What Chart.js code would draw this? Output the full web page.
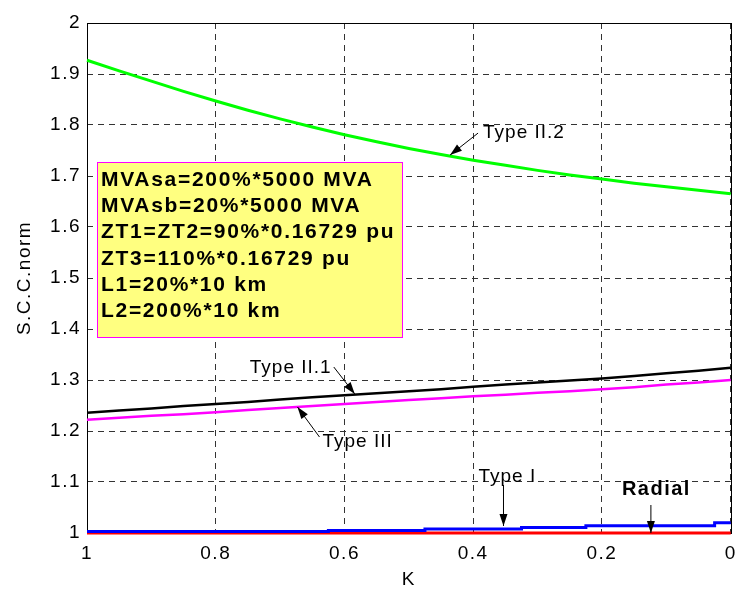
<!DOCTYPE html>
<html><head><meta charset="utf-8">
<script src="https://cdn.jsdelivr.net/npm/chart.js@4/dist/chart.umd.min.js"></script>
<style>html,body{margin:0;padding:0;background:#fff;}canvas{display:block;}</style>
</head><body>
<canvas id="c" width="745" height="592"></canvas>
<script>
// ---- data ----
const kValues = [1,0.95,0.9,0.85,0.8,0.75,0.7,0.65,0.6,0.55,0.5,0.45,0.4,0.35,0.3,0.25,0.2,0.15,0.1,0.05,0];
const typeII2 = [1.927,1.906,1.886,1.866,1.847,1.829,1.812,1.796,1.781,1.767,1.754,1.742,1.731,1.721,1.711,1.702,1.694,1.686,1.679,1.672,1.665];
const typeII1 = [1.236,1.240,1.244,1.249,1.253,1.257,1.262,1.266,1.270,1.274,1.278,1.282,1.287,1.291,1.295,1.299,1.303,1.308,1.313,1.318,1.324];
const typeIII = [1.222,1.226,1.230,1.233,1.237,1.241,1.245,1.249,1.253,1.257,1.261,1.264,1.268,1.271,1.275,1.278,1.282,1.286,1.291,1.295,1.300];
const typeI   = [1.003,1.003,1.003,1.003,1.003,1.003,1.003,1.003,1.005,1.005,1.005,1.008,1.008,1.008,1.011,1.011,1.014,1.014,1.014,1.014,1.020];
const radial  = [1,1,1,1,1,1,1,1,1,1,1,1,1,1,1,1,1,1,1,1,1];
const xTickValues = [1,0.8,0.6,0.4,0.2,0];
const xTickLabels = ['1','0.8','0.6','0.4','0.2','0'];
const yTickValues = [1,1.1,1.2,1.3,1.4,1.5,1.6,1.7,1.8,1.9,2];
const yTickLabels = ['1','1.1','1.2','1.3','1.4','1.5','1.6','1.7','1.8','1.9','2'];
const boxLines = ['MVAsa=200%*5000 MVA','MVAsb=20%*5000 MVA','ZT1=ZT2=90%*0.16729 pu','ZT3=110%*0.16729 pu','L1=20%*10 km','L2=200%*10 km'];
const arrowLabels = ['Type II.2','Type II.1','Type III','Type I','Radial'];
const arrowTipK = [0.436,0.584,0.673,0.353,0.124];
const arrowTipY = [1.741,1.2725,1.247,1.0137,1.0];

// ---- styling / placement (pixels) ----
const FONT = "'Liberation Sans', Arial, Helvetica, sans-serif";
const arrowStyle = [
  {tail:[28,-22], text:[33,-17], bold:false},
  {tail:[-21,-27], text:[-105,-21], bold:false},
  {tail:[22,30], text:[25,40], bold:false},
  {tail:[0,-41], text:[-25,-44], bold:false},
  {tail:[0,-28], text:[-29,-38], bold:true}
];
const boxStyle = {dx:10, dy:139, w:305, h:175, textDx:4, firstBaseline:24, lineGap:26.2};

function drawArrow(ctx, x1, y1, x2, y2){
  ctx.beginPath(); ctx.moveTo(x1,y1); ctx.lineTo(x2,y2); ctx.stroke();
  const a = Math.atan2(y2-y1, x2-x1), L = 12, W = 4;
  ctx.beginPath();
  ctx.moveTo(x2,y2);
  ctx.lineTo(x2 - L*Math.cos(a) + W*Math.sin(a), y2 - L*Math.sin(a) - W*Math.cos(a));
  ctx.lineTo(x2 - L*Math.cos(a) - W*Math.sin(a), y2 - L*Math.sin(a) + W*Math.cos(a));
  ctx.closePath(); ctx.fill();
}

const overlay = {
  id:'overlay',
  beforeDraw(chart){ chart.ctx.letterSpacing = '1.5px'; },
  beforeDatasetsDraw(chart){
    const {ctx, chartArea:a} = chart;
    ctx.save();
    ctx.setLineDash([]);
    ctx.strokeStyle = '#000'; ctx.lineWidth = 1;
    ctx.strokeRect(Math.round(a.left)+0.5, Math.round(a.top)+0.5, Math.round(a.right-a.left), Math.round(a.bottom-a.top));
    ctx.restore();
  },
  afterDatasetsDraw(chart){
    const {ctx, chartArea:a, scales:{x,y}} = chart;
    ctx.save();
    // text box
    const bx = a.left + boxStyle.dx, by = a.top + boxStyle.dy;
    ctx.fillStyle = '#FFFF80';
    ctx.fillRect(bx, by, boxStyle.w, boxStyle.h);
    ctx.strokeStyle = '#FF00FF'; ctx.lineWidth = 1;
    ctx.strokeRect(Math.round(bx)+0.5, Math.round(by)+0.5, boxStyle.w, boxStyle.h);
    ctx.fillStyle = '#000';
    ctx.font = 'bold 21px ' + FONT;
    ctx.letterSpacing = '1.7px';
    ctx.textBaseline = 'alphabetic'; ctx.textAlign = 'left';
    boxLines.forEach((t,i)=>{
      ctx.fillText(t, bx + boxStyle.textDx, by + boxStyle.firstBaseline + i*boxStyle.lineGap);
    });
    // arrows
    ctx.strokeStyle = '#000'; ctx.fillStyle = '#000'; ctx.lineWidth = 1;
    arrowLabels.forEach((t,i)=>{
      const st = arrowStyle[i];
      const tx = x.getPixelForValue(arrowTipK[i]);
      const ty = y.getPixelForValue(arrowTipY[i]);
      drawArrow(ctx, tx+st.tail[0], ty+st.tail[1], tx, ty);
      ctx.font = (st.bold ? 'bold 20px ' : '19px ') + FONT;
      ctx.letterSpacing = st.bold ? '1.5px' : '1px';
      ctx.fillText(t, tx+st.text[0], ty+st.text[1]);
    });
    ctx.restore();
  }
};

const ds = (label, data, color, w) => ({
  label, data, borderColor: color, backgroundColor: color, borderWidth: w,
  pointRadius: 0, tension: 0, fill: false, clip: false
});

new Chart(document.getElementById('c'), {
  type: 'line',
  data: {
    labels: kValues,
    datasets: [
      ds('Type II.2', typeII2, '#00FF00', 3),
      ds('Type II.1', typeII1, '#000000', 2.5),
      ds('Type III', typeIII, '#FF00FF', 2.5),
      Object.assign(ds('Type I', typeI, '#0000FF', 3), {stepped: 'middle'}),
      ds('Radial', radial, '#FF0000', 3)
    ]
  },
  options: {
    responsive: false,
    devicePixelRatio: 1,
    animation: false,
    events: [],
    layout: {padding: {left: 0, right: 7, top: 23, bottom: 0}},
    plugins: {legend: {display: false}, tooltip: {enabled: false}},
    scales: {
      x: {
        type: 'linear', min: 0, max: 1, reverse: true,
        afterBuildTicks: s => { s.ticks = xTickValues.map(v => ({value: v})); },
        afterFit: s => { s.height = 59; },
        ticks: {
          callback: (v, i) => xTickLabels[i],
          font: {family: FONT, size: 19}, color: '#000', padding: 9,
          maxRotation: 0, autoSkip: false
        },
        grid: {color: '#333', lineWidth: 1, drawTicks: false},
        border: {display: false, dash: [6, 5]},
        title: {display: true, text: 'K', color: '#000', font: {family: FONT, size: 19}, padding: {top: 0, bottom: 1}}
      },
      y: {
        type: 'linear', min: 1, max: 2,
        afterBuildTicks: s => { s.ticks = yTickValues.map(v => ({value: v})); },
        afterFit: s => { s.width = 87; },
        ticks: {
          callback: (v, i) => yTickLabels[i],
          font: {family: FONT, size: 19}, color: '#000', padding: 6
        },
        grid: {color: '#333', lineWidth: 1, drawTicks: false},
        border: {display: false, dash: [6, 5]},
        title: {display: true, text: 'S.C.C.norm', color: '#000', font: {family: FONT, size: 19}, padding: {top: 13, bottom: 0}}
      }
    }
  },
  plugins: [overlay]
});
</script>
</body></html>
